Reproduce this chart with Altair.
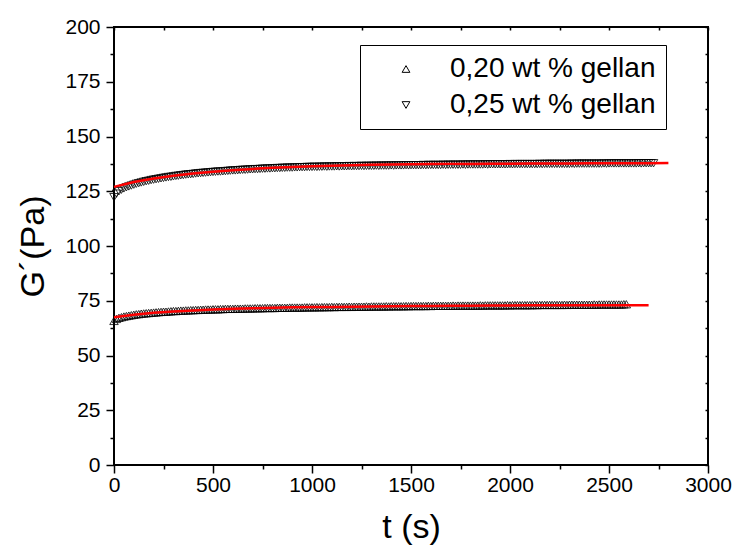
import altair as alt
import pandas as pd

SERIES = ["0,20 wt % gellan", "0,25 wt % gellan"]

# measured G' (Pa), sampled every STEP seconds starting at t = 0
STEP = 12.5
g020 = [
    65.8, 66.7, 67.2, 67.5, 67.8, 68.0, 68.2, 68.4, 68.6, 68.8,
    68.9, 69.1, 69.2, 69.3, 69.4, 69.5, 69.6, 69.7, 69.8, 69.9,
    70.0, 70.0, 70.1, 70.2, 70.3, 70.3, 70.4, 70.5, 70.5, 70.6,
    70.6, 70.7, 70.7, 70.8, 70.8, 70.9, 70.9, 71.0, 71.0, 71.0,
    71.1, 71.1, 71.1, 71.2, 71.2, 71.3, 71.3, 71.3, 71.3, 71.4,
    71.4, 71.4, 71.4, 71.5, 71.5, 71.5, 71.5, 71.6, 71.6, 71.6,
    71.6, 71.7, 71.7, 71.7, 71.7, 71.7, 71.8, 71.8, 71.8, 71.8,
    71.8, 71.9, 71.9, 71.9, 71.9, 71.9, 71.9, 72.0, 72.0, 72.0,
    72.0,
    72.0, 72.1, 72.0, 72.1, 72.1, 72.1, 72.1, 72.2, 72.1, 72.2,
    72.2, 72.2, 72.2, 72.2, 72.3, 72.2, 72.3, 72.3, 72.3, 72.3,
    72.3, 72.4, 72.3, 72.4, 72.4, 72.4, 72.4, 72.4, 72.4, 72.5,
    72.4, 72.5, 72.5, 72.5, 72.5, 72.5, 72.5, 72.6, 72.5, 72.6,
    72.6, 72.6, 72.6, 72.6, 72.6, 72.6, 72.7, 72.6, 72.7, 72.7,
    72.7, 72.7, 72.7, 72.7, 72.7, 72.7, 72.8, 72.7, 72.8, 72.8,
    72.8, 72.8, 72.8, 72.8, 72.8, 72.8, 72.8, 72.9, 72.8, 72.9,
    72.9, 72.9, 72.9, 72.9, 72.9, 72.9, 72.9, 72.9, 73.0, 72.9,
    73.0, 73.0, 73.0, 73.0, 73.0, 73.0, 73.0, 73.0, 73.0, 73.1,
    73.0, 73.1, 73.1, 73.1, 73.1, 73.1, 73.1, 73.1, 73.1, 73.1,
    73.1, 73.2, 73.1, 73.2, 73.2, 73.2, 73.2, 73.2, 73.2, 73.2,
    73.2, 73.2, 73.2, 73.3, 73.2, 73.3, 73.3, 73.3, 73.3, 73.3,
    73.3, 73.3, 73.3, 73.3, 73.3, 73.4, 73.4,
]
g025 = [
    122.3, 123.9, 125.0, 125.7, 126.3, 126.8, 127.2, 127.6, 128.0, 128.4,
    128.7, 129.0, 129.3, 129.6, 129.8, 130.1, 130.3, 130.5, 130.7, 130.9,
    131.1, 131.3, 131.5, 131.6, 131.8, 132.0, 132.1, 132.3, 132.4, 132.6,
    132.7, 132.8, 132.9, 133.1, 133.2, 133.3, 133.4, 133.5, 133.6, 133.7,
    133.8, 133.9, 134.0, 134.0, 134.1, 134.2, 134.3, 134.4, 134.5, 134.5,
    134.6, 134.7, 134.8, 134.8, 134.9, 135.0, 135.0, 135.1, 135.1, 135.2,
    135.3, 135.3, 135.4, 135.4, 135.5, 135.5, 135.6, 135.6, 135.7, 135.7,
    135.8, 135.8, 135.8, 135.9, 135.9, 136.0, 136.0, 136.0, 136.1, 136.1,
    136.1,
    136.2, 136.1, 136.2, 136.2, 136.3, 136.2, 136.3, 136.3, 136.3, 136.4,
    136.3, 136.4, 136.4, 136.4, 136.5, 136.4, 136.5, 136.5, 136.5, 136.6,
    136.5, 136.6, 136.6, 136.6, 136.6, 136.7, 136.6, 136.7, 136.7, 136.7,
    136.7, 136.8, 136.7, 136.8, 136.8, 136.8, 136.8, 136.9, 136.8, 136.9,
    136.9, 136.9, 136.9, 136.9, 137.0, 136.9, 137.0, 137.0, 137.0, 137.0,
    137.0, 137.0, 137.1, 137.0, 137.1, 137.1, 137.1, 137.1, 137.1, 137.1,
    137.2, 137.1, 137.2, 137.2, 137.2, 137.2, 137.2, 137.2, 137.2, 137.3,
    137.2, 137.3, 137.3, 137.3, 137.3, 137.3, 137.3, 137.3, 137.3, 137.4,
    137.3, 137.4, 137.4, 137.4, 137.4, 137.4, 137.4, 137.4, 137.4, 137.4,
    137.4, 137.5, 137.4, 137.5, 137.5, 137.5, 137.5, 137.5, 137.5, 137.5,
    137.5, 137.5, 137.5, 137.5, 137.6, 137.5, 137.6, 137.6, 137.6, 137.6,
    137.6, 137.6, 137.6, 137.6, 137.6, 137.6, 137.6, 137.7, 137.6, 137.7,
    137.7, 137.7, 137.7, 137.7, 137.7, 137.7, 137.7, 137.7, 137.7, 137.7,
    137.7, 137.8, 137.7, 137.8, 137.8, 137.8, 137.8, 137.8,
]

# fitted curves (red), sampled every FIT_STEP seconds starting at t = 0
FIT_STEP = 100
fit020 = [
    67.5, 68.6, 69.5, 70.1, 70.6, 71.0, 71.3, 71.6, 71.8, 72.0,
    72.1, 72.2, 72.3, 72.4, 72.5, 72.6, 72.6, 72.7, 72.7, 72.8,
    72.8, 72.9, 72.9, 72.9, 73.0, 73.0, 73.0, 73.0,
]
fit025 = [
    127.0, 129.2, 130.8, 132.1, 133.1, 133.9, 134.6, 135.2, 135.7, 136.1,
    136.4, 136.7, 136.9, 137.1, 137.2, 137.3, 137.4, 137.5, 137.5, 137.6,
    137.6, 137.7, 137.7, 137.7, 137.8, 137.8, 137.8, 137.8, 137.9,
]

X_MAJOR = [0, 500, 1000, 1500, 2000, 2500, 3000]
X_MINOR = [250, 750, 1250, 1750, 2250, 2750]
Y_MAJOR = [0, 25, 50, 75, 100, 125, 150, 175, 200]
Y_MINOR = [12.5, 37.5, 62.5, 87.5, 112.5, 137.5, 162.5, 187.5]

rows = []
for name, vals in zip(SERIES, [g020, g025]):
    for i, v in enumerate(vals):
        rows.append({"t": i * STEP, "G": v, "s": name})
pts = pd.DataFrame(rows)

frows = []
for name, vals in zip(SERIES, [fit020, fit025]):
    for i, v in enumerate(vals):
        frows.append({"t": i * FIT_STEP, "G": v, "s": name})
fits = pd.DataFrame(frows)

FONT = "Liberation Sans"
xs = alt.Scale(domain=[0, 3000], nice=False, zero=False)
ys = alt.Scale(domain=[0, 200], nice=False, zero=False)

tickstyle = dict(domain=False, grid=False, tickColor="black", tickWidth=1.5)
labelstyle = dict(labelFont=FONT, labelFontSize=21, labelColor="black", labelFlush=False,
                  labelOverlap=False,
                  titleFont=FONT, titleFontSize=34, titleFontWeight="normal",
                  titleColor="black")

points = alt.Chart(pts).mark_point(filled=False, color="black", strokeWidth=0.8, size=72, opacity=1).encode(
    x=alt.X("t:Q", scale=xs, axis=alt.Axis(orient="bottom", values=X_MAJOR, format="d", tickSize=8,
                                           labelPadding=1, title="t (s)", titlePadding=15,
                                           **tickstyle, **labelstyle)),
    y=alt.Y("G:Q", scale=ys, axis=alt.Axis(orient="left", values=Y_MAJOR, format="d", tickSize=8,
                                           labelPadding=6, title="G´(Pa)", titlePadding=14,
                                           **tickstyle, **labelstyle)),
    shape=alt.Shape("s:N", scale=alt.Scale(domain=SERIES, range=["triangle-up", "triangle-down"]),
                    legend=alt.Legend(title=None, orient="none", legendX=246, legendY=18,
                                      padding=10, strokeColor="black", fillColor="white",
                                      labelFont=FONT, labelFontSize=28, labelColor="black",
                                      labelLimit=400, symbolSize=60, symbolStrokeWidth=1,
                                      symbolStrokeColor="black", symbolFillColor="white",
                                      symbolOffset=22, labelOffset=30, rowPadding=8)),
)

fitc = alt.Chart(fits).mark_line(color="#ff0000", strokeWidth=2.5).encode(
    x=alt.X("t:Q", scale=xs, axis=None),
    y=alt.Y("G:Q", scale=ys, axis=None),
    detail="s:N",
)

minor = alt.Chart(pts).mark_point(opacity=0, size=1).encode(
    x=alt.X("t:Q", scale=xs, axis=alt.Axis(orient="bottom", values=X_MINOR, tickSize=4, labels=False,
                                           title=None, **tickstyle)),
    y=alt.Y("G:Q", scale=ys, axis=alt.Axis(orient="left", values=Y_MINOR, tickSize=4, labels=False,
                                           title=None, **tickstyle)),
)

inner = alt.Chart(pts).mark_point(opacity=0, size=1).encode(
    x=alt.X("t:Q", scale=xs, axis=alt.Axis(orient="top", values=X_MAJOR + X_MINOR, tickSize=3, offset=-3,
                                           labels=False, title=None, **tickstyle)),
    y=alt.Y("G:Q", scale=ys, axis=alt.Axis(orient="right", values=Y_MAJOR + Y_MINOR, tickSize=3, offset=-3,
                                           labels=False, title=None, **tickstyle)),
)

chart = alt.layer(points, fitc, minor, inner).resolve_axis(
    x="independent", y="independent"
).properties(
    width=594, height=438,
    padding={"left": 114, "top": 27, "right": 28, "bottom": 87},
    autosize=alt.AutoSizeParams(type="none"),
    background="white",
).configure_view(stroke="black", strokeWidth=2)

chart.save("out.html", embed_options={"renderer": "svg", "actions": False})
